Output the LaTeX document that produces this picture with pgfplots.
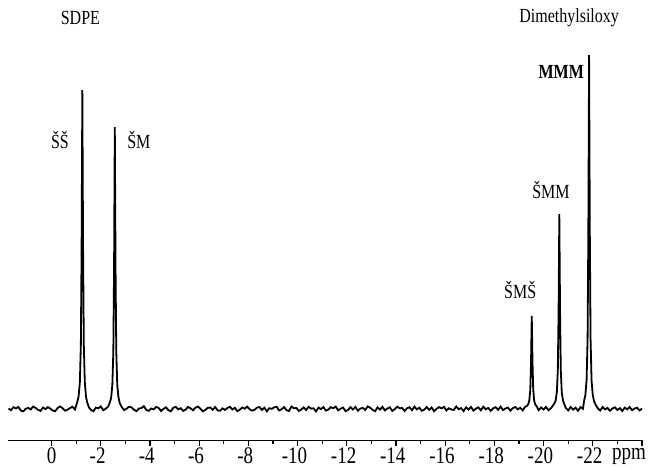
\documentclass[border=0pt]{standalone}
\usepackage{fontspec}
\setmainfont{Liberation Serif}
\usepackage{graphicx}
\usepackage{pgfplots}
\usepackage{pgfplotstable}
\pgfplotsset{compat=1.18}
% the original lettering is set tall and narrow
\newcommand{\tl}[1]{\scalebox{1}[1.25]{#1}}

% 29Si NMR spectrum, y in "pixels" above the baseline
\pgfplotstableread{
x y
1.75 0.5
1.65 -1.2
1.55 1.8
1.45 0.6
1.35 2.1
1.25 -1.5
1.15 -2.3
1.05 0.3
0.95 1.1
0.85 -0.4
0.75 2.4
0.65 1.0
0.55 -0.8
0.45 -1.9
0.35 1.5
0.25 -0.2
0.15 2.0
0.05 0.3
-0.05 -1.6
-0.15 -2.1
-0.25 1.2
-0.35 2.6
-0.45 0.8
-0.55 -1.7
-0.65 -0.6
-0.75 0.9
-0.85 2.3
-0.95 -0.5
-1.05 7.5
-1.10 13
-1.15 27
-1.19 64
-1.22 160
-1.25 319
-1.28 160
-1.31 64
-1.35 27
-1.40 12
-1.45 6.5
-1.52 1.5
-1.6 -0.8
-1.7 -2.2
-1.8 1.4
-1.9 0.7
-2.0 2.6
-2.1 -1.3
-2.2 0.3
-2.3 2.5
-2.37 6.8
-2.42 11
-2.47 24
-2.51 57
-2.54 141
-2.57 282
-2.60 141
-2.63 57
-2.67 24
-2.72 11.5
-2.77 6
-2.85 2.0
-2.95 -1.1
-3.05 0.4
-3.15 2.3
-3.25 1.6
-3.35 -0.7
-3.45 -2.2
-3.55 0.5
-3.65 0.9
-3.75 2.8
-3.85 -0.9
-3.95 -1.8
-4.05 0.5
-4.15 -0.4
-4.25 2.1
-4.35 1.1
-4.45 -2.0
-4.55 0.2
-4.65 1.7
-4.75 -1.2
-4.85 -2.3
-4.95 1.4
-5.05 2.0
-5.15 -0.4
-5.25 0.8
-5.35 -1.9
-5.45 -0.6
-5.55 2.1
-5.65 0.7
-5.75 -1.3
-5.85 1.4
-5.95 2.5
-6.05 0.2
-6.15 -2.3
-6.25 -0.9
-6.35 1.2
-6.45 1.5
-6.55 -0.8
-6.65 2.0
-6.75 -1.4
-6.85 -1.8
-6.95 0.6
-7.05 -0.9
-7.15 1.1
-7.25 2.2
-7.35 -0.5
-7.45 1.2
-7.55 -2.1
-7.65 -0.7
-7.75 1.6
-7.85 0.3
-7.95 2.4
-8.05 -0.2
-8.15 -1.6
-8.25 -0.8
-8.35 1.4
-8.45 2.0
-8.55 -0.9
-8.65 1.3
-8.75 -2.3
-8.85 0.8
-8.95 0.2
-9.05 1.7
-9.15 2.3
-9.25 -1.5
-9.35 -0.2
-9.45 1.9
-9.55 -1.2
-9.65 -2.0
-9.75 2.5
-9.85 0.7
-9.95 1.1
-10.05 -2.0
-10.15 -0.5
-10.25 1.6
-10.35 -1.0
-10.45 2.2
-10.55 0.4
-10.65 0.7
-10.75 -2.4
-10.85 1.4
-10.95 -0.1
-11.05 2.0
-11.15 -1.6
-11.25 -0.6
-11.35 1.8
-11.45 0.8
-11.55 2.4
-11.65 -1.3
-11.75 0.3
-11.85 1.5
-11.95 -2.1
-12.05 -0.9
-12.15 1.9
-12.25 -0.5
-12.35 2.1
-12.45 -1.7
-12.55 0.4
-12.65 1.2
-12.75 -1.1
-12.85 2.6
-12.95 1.3
-13.05 -0.8
-13.15 -2.2
-13.25 1.6
-13.35 -0.6
-13.45 2.2
-13.55 -1.4
-13.65 0.5
-13.75 1.7
-13.85 -1.9
-13.95 -0.2
-14.05 2.3
-14.15 0.7
-14.25 1.0
-14.35 -2.0
-14.45 0.7
-14.55 1.8
-14.65 -1.2
-14.75 2.4
-14.85 -0.4
-14.95 1.3
-15.05 -1.8
-15.15 -0.6
-15.25 2.0
-15.35 -0.9
-15.45 1.5
-15.55 -2.3
-15.65 0.3
-15.75 1.9
-15.85 0.6
-15.95 2.2
-16.05 -1.5
-16.15 0.8
-16.25 -0.4
-16.35 -1.0
-16.45 2.5
-16.55 -0.2
-16.65 0.9
-16.75 -2.1
-16.85 1.7
-16.95 -0.5
-17.05 2.1
-17.15 -1.6
-17.25 0.4
-17.35 1.6
-17.45 -1.3
-17.55 2.3
-17.65 -0.3
-17.75 1.1
-17.85 -1.9
-17.95 0.7
-18.05 1.8
-18.15 -0.8
-18.25 2.4
-18.35 -1.1
-18.45 0.5
-18.55 1.5
-18.65 -1.7
-18.75 0.9
-18.85 2.0
-18.95 -0.4
-19.05 1.3
-19.15 -1.4
-19.25 2.2
-19.32 3.0
-19.37 4.5
-19.42 8.5
-19.46 19
-19.49 46.5
-19.52 93
-19.55 46.5
-19.58 19
-19.62 8
-19.67 4.2
-19.72 2.8
-19.8 -1.2
-19.9 1.6
-20.0 -0.5
-20.1 2.1
-20.2 -1.3
-20.3 0.8
-20.44 5.5
-20.49 8.5
-20.54 17
-20.58 39
-20.61 97.5
-20.64 195
-20.67 97.5
-20.70 39
-20.74 16.5
-20.79 8.5
-20.84 5
-20.9 1.2
-21.0 -1.4
-21.1 2.0
-21.2 -0.6
-21.3 1.3
-21.4 -1.8
-21.5 1.9
-21.6 0.2
-21.65 8.5
-21.70 14
-21.75 29.5
-21.79 71
-21.82 177
-21.85 354
-21.88 177
-21.91 71
-21.95 29
-22.00 14
-22.05 8
-22.1 5
-22.2 0.8
-22.3 -1.6
-22.4 2.0
-22.5 -0.4
-22.6 1.1
-22.7 -1.9
-22.8 0.6
-22.9 1.7
-23.0 -1.0
-23.1 0.9
-23.2 -2.0
-23.3 1.4
-23.4 -0.3
-23.5 2.0
-23.6 -1.2
-23.7 0.5
-23.8 1.3
-23.9 -1.5
-24.0 0.4
}\spectrum

\begin{document}
\begin{tikzpicture}
\useasboundingbox (-4.15pt,-13.65pt) rectangle (321.35pt,220.35pt);
\begin{axis}[
  scale only axis, width=317.2pt, height=215.35pt,
  anchor=south west, at={(0,0)},
  x dir=reverse, xmin=-24.03, xmax=1.76, ymin=-31.7, ymax=399,
  axis x line=bottom, axis y line=none,
  axis line style={-, line width=0.6pt},
  xtick={0,-2,...,-24},
  xticklabels={\tl{0},\tl{\llap{-}2},\tl{\llap{-}4},\tl{\llap{-}6},\tl{\llap{-}8},\tl{\llap{-}10},\tl{\llap{-}12},\tl{\llap{-}14},\tl{\llap{-}16},\tl{\llap{-}18},\tl{\llap{-}20},\tl{\llap{-}22},{}},
  minor x tick num=1,
  tick align=outside,
  major tick length=2.5pt, minor tick length=1.7pt,
  tick style={line width=0.6pt, black},
  xticklabel style={font=\fontsize{9.5}{11}\selectfont, inner sep=0.4pt, yshift=-0.6pt},
  clip=false,
]
\addplot[black, line width=0.9pt] table[x=x, y=y] {\spectrum};
\node[font=\fontsize{8}{10}\selectfont] at (axis cs:-1.17,391) {\tl{SDPE}};
\node[font=\fontsize{8}{10}\selectfont] at (axis cs:-21.04,391) {\tl{Dimethylsiloxy}};
\node[font=\fontsize{8}{10}\selectfont] at (axis cs:-0.34,269) {\tl{ŠŠ}};
\node[font=\fontsize{8}{10}\selectfont] at (axis cs:-3.55,269) {\tl{ŠM}};
\node[font=\fontsize{8}{10}\selectfont] at (axis cs:-19.05,119) {\tl{ŠMŠ}};
\node[font=\fontsize{8}{10}\selectfont] at (axis cs:-20.30,219) {\tl{ŠMM}};
\node[font=\fontsize{8}{10}\selectfont\bfseries] at (axis cs:-20.72,337) {\tl{MMM}};
\node[font=\fontsize{9.5}{11}\selectfont, anchor=base west, inner sep=0pt] at (axis cs:-22.77,-50) {\tl{ppm}};
\end{axis}
\end{tikzpicture}
\end{document}
